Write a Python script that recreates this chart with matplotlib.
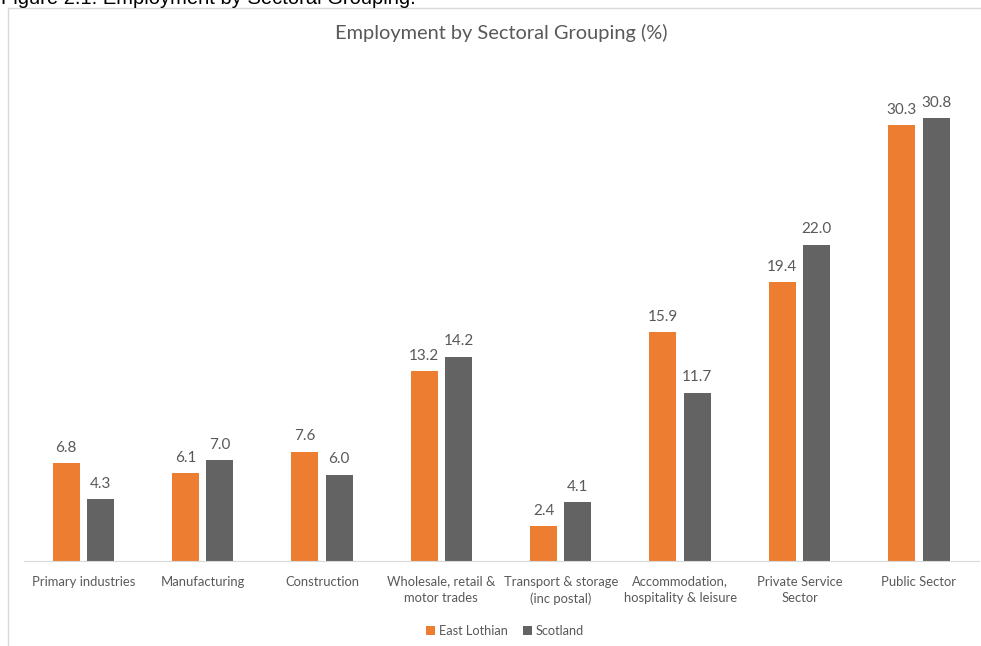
import numpy as np
import matplotlib.pyplot as plt
from matplotlib.lines import Line2D

# Data
categories = ['Primary industries', 'Manufacturing', 'Construction',
              'Wholesale, retail &\nmotor trades', 'Transport & storage\n(inc postal)',
              'Accommodation,\nhospitality & leisure', 'Private Service\nSector',
              'Public Sector']
east_lothian = [6.8, 6.1, 7.6, 13.2, 2.4, 15.9, 19.4, 30.3]
scotland = [4.3, 7.0, 6.0, 14.2, 4.1, 11.7, 22.0, 30.8]

orange = '#ED7D31'
grey = '#636363'
txt = '#595959'
plt.rcParams['font.family'] = ['Lato', 'DejaVu Sans']

fig = plt.figure(figsize=(9.81, 6.46), dpi=100)
ax = fig.add_axes([0.024, 0.1316, 0.9735, 0.779])

x = np.arange(len(categories))
w = 0.226
off = 0.144
b1 = ax.bar(x - off, east_lothian, w, color=orange, label='East Lothian')
b2 = ax.bar(x + off, scotland, w, color=grey, label='Scotland')

for bars, vals in [(b1, east_lothian), (b2, scotland)]:
    for r, v in zip(bars, vals):
        ax.annotate('%.1f' % v, (r.get_x() + r.get_width() / 2, v),
                    xytext=(0, 6), textcoords='offset points',
                    ha='center', va='bottom', fontsize=11, color=txt)

ax.set_xlim(-0.5, len(categories) - 0.5)
ax.set_ylim(0, 35)
ax.set_yticks([])
ax.set_xticks(x)
ax.set_xticklabels(categories, fontsize=9.4, color=txt, linespacing=1.45)
ax.tick_params(axis='x', length=0, pad=10.5)
for s in ['top', 'right', 'left']:
    ax.spines[s].set_visible(False)
ax.spines['bottom'].set_color('#D9D9D9')

ax.set_title('Employment by Sectoral Grouping (%)', fontsize=14.4,
             color=txt, pad=0, y=1.038)

fig.legend(loc='center', bbox_to_anchor=(0.515, 1 - 631 / 646), ncol=2,
           frameon=False, fontsize=9.2, handlelength=0.7, handleheight=0.7,
           handletextpad=0.3, columnspacing=1.2, labelcolor=txt)

# outer chart border
fig.add_artist(Line2D([8 / 981, 980 / 981], [1 - 8 / 646, 1 - 8 / 646],
                      transform=fig.transFigure, color='#D9D9D9', lw=1))
fig.add_artist(Line2D([8 / 981, 8 / 981], [0, 1 - 8 / 646],
                      transform=fig.transFigure, color='#D9D9D9', lw=1))

fig.text(1 / 981, 1 - 4 / 646, 'Figure 2.1: Employment by Sectoral Grouping.',
         family='Liberation Sans', fontsize=14.5, color='black',
         ha='left', va='baseline')

fig.savefig('out.png', dpi=100)
